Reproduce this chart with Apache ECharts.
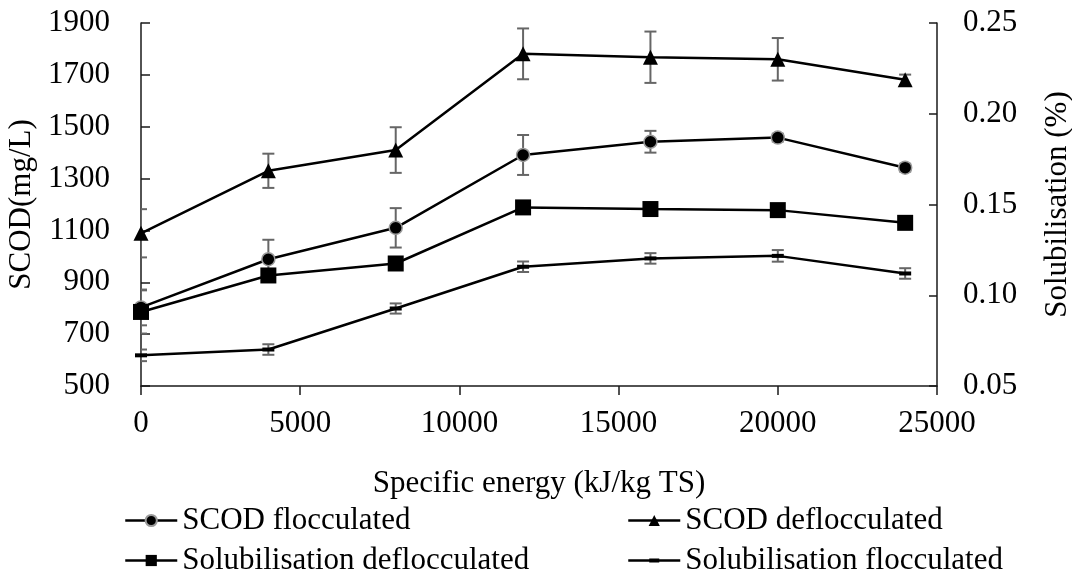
<!DOCTYPE html>
<html>
<head>
<meta charset="utf-8">
<title>SCOD and solubilisation vs specific energy</title>
<script src="https://cdn.jsdelivr.net/npm/echarts@6.0.0/dist/echarts.min.js"></script>
<style>
  html, body { margin: 0; padding: 0; background: #fff; }
  #chart { width: 1072px; height: 577px; }
</style>
</head>
<body>
<div id="chart"></div>
<script>
// Specific energy levels (kJ/kg TS)
const energy = [0, 4000, 8000, 12000, 16000, 20000, 24000];

// SCOD (mg/L), left axis
const scodFloc      = [803, 989, 1110, 1391, 1442, 1458, 1342];
const scodFlocErr   = [69, 75, 76, 77, 42, 15, 15];
const scodDefloc    = [1089, 1330, 1410, 1781, 1768, 1760, 1681];
const scodDeflocErr = [93, 66, 88, 98, 99, 82, 20];

// Solubilisation (%), right axis
const solDefloc    = [0.0908, 0.1109, 0.1175, 0.1484, 0.1475, 0.1469, 0.1399];
const solDeflocErr = [0.0119, 0.002, 0.002, 0.002, 0.002, 0.002, 0.002];
const solFloc      = [0.0669, 0.0701, 0.0927, 0.1157, 0.1203, 0.1217, 0.1120];
const solFlocErr   = [0.0032, 0.0029, 0.0028, 0.0029, 0.0029, 0.0032, 0.0029];

const seriesNames = [
  'SCOD flocculated',
  'SCOD deflocculated',
  'Solubilisation deflocculated',
  'Solubilisation flocculated'
];

const FONT = "'Liberation Serif', 'Times New Roman', serif";
const FS = 31;
const AXIS_COLOR = '#1a1a1a';
const ERR_COLOR = '#666666';

// Legend glyph for the dash-marker series: a line with a short bar in the middle
// (tiny corner squares pin the bounding box to the 52x14 legend cell)
const DASH_ICON = 'path://M0,0h0.01v0.01h-0.01z M0,5.75h52v2.5h-52z M21,5h10v4h-10z M51.99,13.99h0.01v0.01h-0.01z';

function pairs(ys) { return energy.map((x, i) => [x, ys[i]]); }
function errRows(ys, es) { return energy.map((x, i) => [x, ys[i] - es[i], ys[i] + es[i]]); }

function errorBars(ys, es, yAxisIndex) {
  return {
    type: 'custom',
    yAxisIndex: yAxisIndex,
    z: 1,
    silent: true,
    clip: true,
    data: errRows(ys, es),
    renderItem: function (params, api) {
      const x = api.value(0);
      const lo = api.coord([x, api.value(1)]);
      const hi = api.coord([x, api.value(2)]);
      const cap = 6;
      const style = { stroke: ERR_COLOR, lineWidth: 2 };
      return {
        type: 'group',
        children: [
          { type: 'line', shape: { x1: lo[0], y1: lo[1], x2: hi[0], y2: hi[1] }, style: style },
          { type: 'line', shape: { x1: lo[0] - cap, y1: lo[1], x2: lo[0] + cap, y2: lo[1] }, style: style },
          { type: 'line', shape: { x1: hi[0] - cap, y1: hi[1], x2: hi[0] + cap, y2: hi[1] }, style: style }
        ]
      };
    }
  };
}

function lineSeries(name, ys, yAxisIndex, symbol, size, extraItem) {
  return {
    name: name,
    type: 'line',
    yAxisIndex: yAxisIndex,
    z: 3,
    data: pairs(ys),
    symbol: symbol,
    symbolSize: size,
    showAllSymbol: true,
    lineStyle: { color: '#000', width: 2.5 },
    itemStyle: Object.assign({ color: '#000', opacity: 1 }, extraItem || {}),
    emphasis: { disabled: true },
    animation: false
  };
}

const legendCommon = {
  orient: 'vertical',
  itemWidth: 52,
  itemHeight: 14,
  itemGap: 9,
  height: 71,
  padding: 0,
  lineStyle: { width: 2.5 },
  textStyle: { fontFamily: FONT, fontSize: FS, color: '#000', lineHeight: 31 },
  selectedMode: false
};

const chart = echarts.init(document.getElementById('chart'), null, { renderer: 'canvas' });

chart.setOption({
  animation: false,
  backgroundColor: '#fff',
  grid: { left: 141, right: 135, top: 23, bottom: 191, containLabel: false, outerBoundsMode: 'none' },
  legend: [
    Object.assign({ left: 124, top: 505, data: [seriesNames[0], seriesNames[2]] }, legendCommon),
    Object.assign({ left: 627, top: 505, data: [seriesNames[1], { name: seriesNames[3], icon: DASH_ICON }] }, legendCommon)
  ],
  xAxis: {
    type: 'value',
    min: 0, max: 25000, interval: 5000,
    name: 'Specific energy (kJ/kg TS)',
    nameLocation: 'middle',
    nameGap: 82,
    nameTextStyle: { fontFamily: FONT, fontSize: FS, color: '#000' },
    axisLine: { show: true, onZero: false, lineStyle: { color: AXIS_COLOR, width: 1.5 } },
    axisTick: { show: true, inside: false, length: 9, lineStyle: { color: AXIS_COLOR, width: 1.5 } },
    axisLabel: { fontFamily: FONT, fontSize: FS, color: '#000', margin: 22, formatter: function (v) { return String(v); } },
    splitLine: { show: false }
  },
  yAxis: [
    {
      type: 'value',
      position: 'left',
      min: 500, max: 1900, interval: 200,
      name: 'SCOD(mg/L)',
      nameLocation: 'middle',
      nameRotate: 90,
      nameGap: 80,
      nameTextStyle: { fontFamily: FONT, fontSize: FS, color: '#000' },
      axisLine: { show: true, lineStyle: { color: AXIS_COLOR, width: 1.5 } },
      axisTick: { show: true, inside: true, length: 9, lineStyle: { color: AXIS_COLOR, width: 1.5 } },
      axisLabel: { fontFamily: FONT, fontSize: FS, color: '#000', margin: 31, formatter: function (v) { return String(v); } },
      splitLine: { show: false }
    },
    {
      type: 'value',
      position: 'right',
      min: 0.05, max: 0.25, interval: 0.05,
      name: 'Solubilisation (%)',
      nameLocation: 'middle',
      nameRotate: 90,
      nameGap: 105,
      nameTextStyle: { fontFamily: FONT, fontSize: FS, color: '#000' },
      axisLine: { show: true, lineStyle: { color: AXIS_COLOR, width: 1.5 } },
      axisTick: { show: true, inside: true, length: 8, lineStyle: { color: AXIS_COLOR, width: 1.5 } },
      axisLabel: {
        fontFamily: FONT, fontSize: FS, color: '#000', margin: 26,
        formatter: function (v) { return v.toFixed(2); }
      },
      splitLine: { show: false }
    }
  ],
  series: [
    errorBars(scodFloc, scodFlocErr, 0),
    errorBars(scodDefloc, scodDeflocErr, 0),
    errorBars(solDefloc, solDeflocErr, 1),
    errorBars(solFloc, solFlocErr, 1),
    lineSeries(seriesNames[0], scodFloc, 0, 'circle', 13, { borderColor: '#9a9a9a', borderWidth: 1.5 }),
    lineSeries(seriesNames[1], scodDefloc, 0, 'triangle', 15),
    lineSeries(seriesNames[2], solDefloc, 1, 'rect', 16),
    lineSeries(seriesNames[3], solFloc, 1, 'rect', [12, 4])
  ]
});
</script>
</body>
</html>
